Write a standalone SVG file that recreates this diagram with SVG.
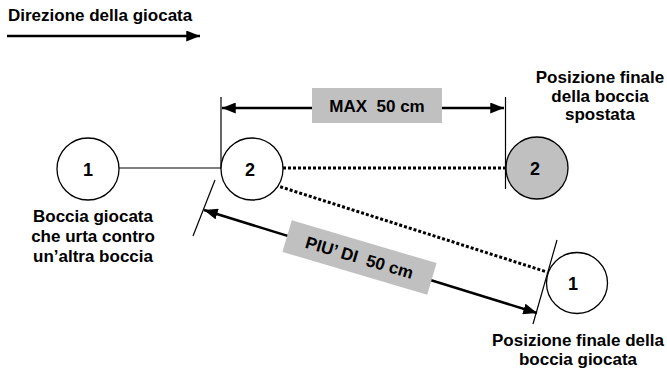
<svg xmlns="http://www.w3.org/2000/svg" width="667" height="374" viewBox="0 0 667 374">
  <style>
    text { font-family: "Liberation Sans", Arial, sans-serif; font-weight: bold; fill: #000; }
    .lbl { font-size: 17px; text-anchor: middle; }
    .num { font-size: 18px; text-anchor: middle; }
    .ball { fill: #fff; stroke: #000; stroke-width: 1.3; }
    .moved { fill: #c0c0c0; stroke: #000; stroke-width: 1.3; }
    .thin { stroke: #000; stroke-width: 1.2; fill: none; }
    .dim { stroke: #000; stroke-width: 2.5; fill: none; }
    .dots { stroke: #000; stroke-width: 3; stroke-dasharray: 3 2; fill: none; }
    .tag { fill: #c0c0c0; }
  </style>
  <defs>
    <marker id="arrowEnd" viewBox="0 0 10 8" refX="10" refY="4" markerWidth="5.5" markerHeight="4.4" orient="auto" markerUnits="strokeWidth">
      <path d="M0,0 L10,4 L0,8 Z" fill="#000"/>
    </marker>
    <marker id="arrowStart" viewBox="0 0 10 8" refX="0" refY="4" markerWidth="5.5" markerHeight="4.4" orient="auto" markerUnits="strokeWidth">
      <path d="M10,0 L0,4 L10,8 Z" fill="#000"/>
    </marker>
  </defs>

  <!-- play direction -->
  <g id="direction">
    <text x="8" y="21" style="font-size:17px">Direzione della giocata</text>
    <line x1="7" y1="36" x2="200" y2="36" class="dim" marker-end="url(#arrowEnd)"/>
  </g>

  <!-- connectors -->
  <g id="connectors">
    <line x1="119" y1="168" x2="221" y2="168" class="thin"/>
    <line x1="221" y1="97" x2="221" y2="169" class="thin"/>
    <line x1="505.5" y1="97" x2="505.5" y2="189" class="thin"/>
    <line x1="283" y1="168" x2="505" y2="168" class="dots"/>
    <line x1="223" y1="168.5" x2="547" y2="272" class="dots"/>
    <line x1="215" y1="180" x2="193" y2="236" class="thin"/>
    <line x1="557" y1="240" x2="533" y2="324" class="thin"/>
    <line x1="222" y1="108" x2="504" y2="108" class="dim" marker-start="url(#arrowStart)" marker-end="url(#arrowEnd)"/>
    <line x1="204" y1="210" x2="537" y2="313" class="dim" marker-start="url(#arrowStart)" marker-end="url(#arrowEnd)"/>
  </g>

  <!-- distance labels -->
  <g id="max-label">
    <rect x="312" y="88" width="130" height="35" class="tag"/>
    <text x="377" y="112" class="lbl" xml:space="preserve">MAX  50 cm</text>
  </g>
  <g id="over-label" transform="translate(359.5 257.5) rotate(16.5)">
    <rect x="-75.5" y="-16.5" width="151" height="33" class="tag"/>
    <text x="0" y="6" class="lbl" xml:space="preserve">PIU’ DI  50 cm</text>
  </g>

  <!-- played ball, start -->
  <g id="ball1-start">
    <circle cx="88" cy="169" r="31" class="ball"/>
    <text x="88" y="175.5" class="num">1</text>
    <text x="93" y="222" class="lbl">Boccia giocata</text>
    <text x="93" y="242" class="lbl">che urta contro</text>
    <text x="93" y="262" class="lbl">un’altra boccia</text>
  </g>

  <!-- struck ball, start -->
  <g id="ball2-start">
    <circle cx="252" cy="169" r="31" class="ball"/>
    <text x="250" y="175.5" class="num">2</text>
  </g>

  <!-- struck ball, final -->
  <g id="ball2-final">
    <circle cx="537" cy="168" r="31" class="moved"/>
    <text x="535" y="174.5" class="num">2</text>
    <text x="600" y="83" class="lbl">Posizione finale</text>
    <text x="600" y="101.5" class="lbl">della boccia</text>
    <text x="600" y="120" class="lbl">spostata</text>
  </g>

  <!-- played ball, final -->
  <g id="ball1-final">
    <circle cx="577" cy="283" r="30.5" class="ball"/>
    <text x="573" y="289.5" class="num">1</text>
    <text x="578" y="346" class="lbl">Posizione finale della</text>
    <text x="578" y="365" class="lbl">boccia giocata</text>
  </g>
</svg>
